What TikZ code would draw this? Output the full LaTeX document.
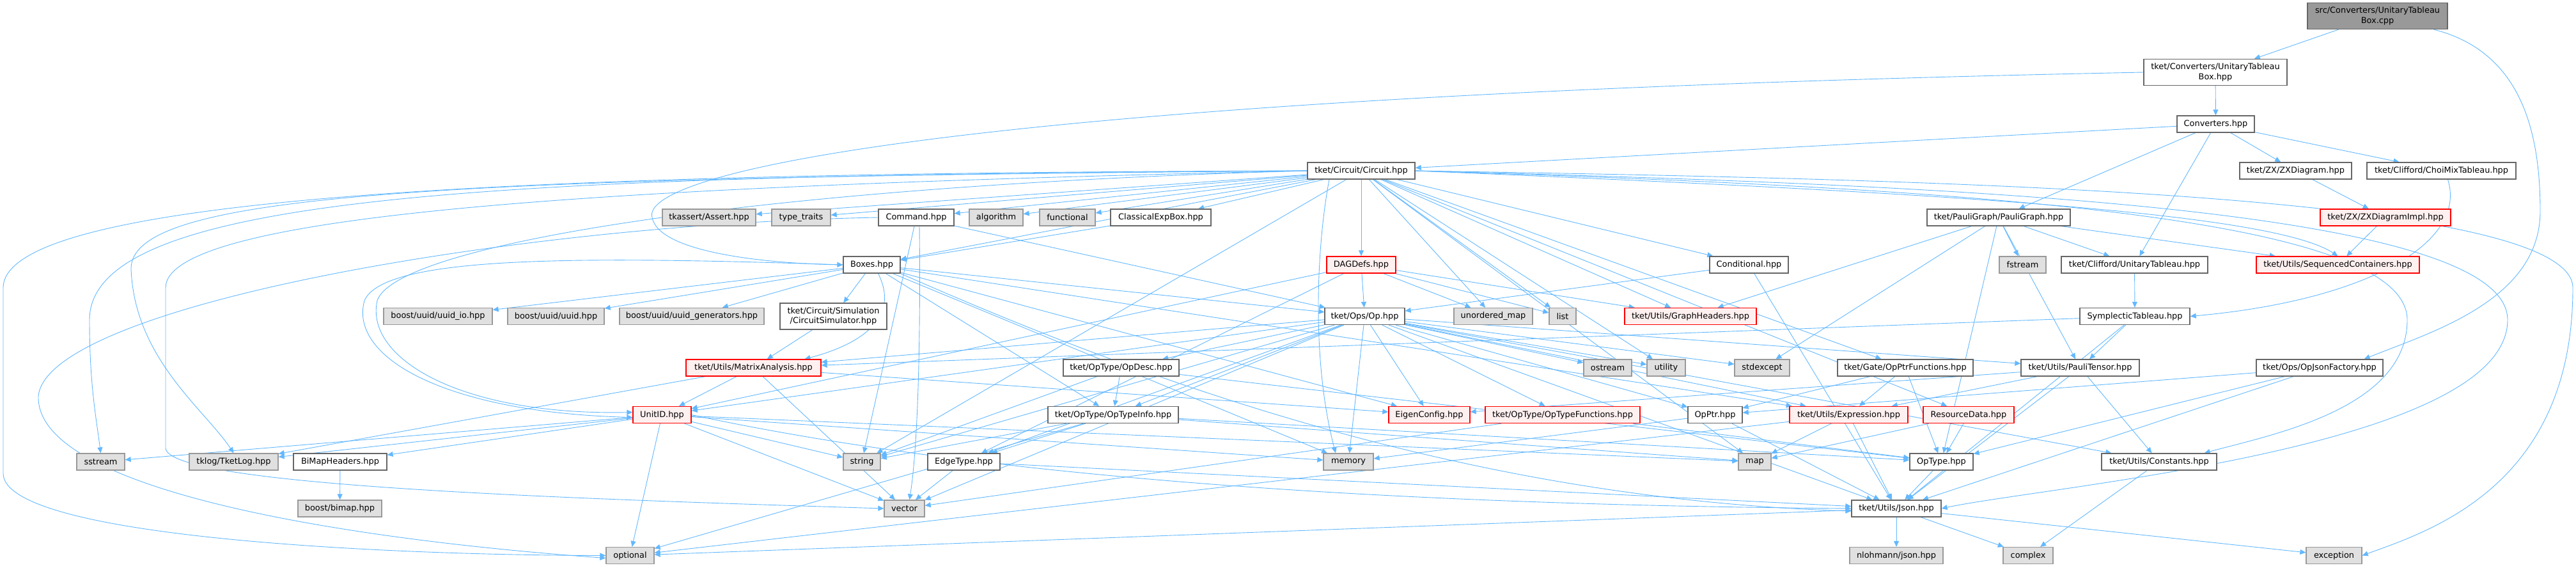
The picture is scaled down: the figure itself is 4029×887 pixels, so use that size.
\documentclass[tikz,border=0pt]{standalone}
\usepackage{fontspec}
\setmainfont{DejaVu Sans}
\usetikzlibrary{arrows.meta,backgrounds}
\definecolor{DoxLine}{HTML}{666666}
\definecolor{DoxSysLine}{HTML}{999999}
\definecolor{DoxSysFill}{HTML}{E0E0E0}
\definecolor{DoxRed}{HTML}{FF0000}
\definecolor{DoxRedFill}{HTML}{FFF0F0}
\definecolor{DoxRoot}{HTML}{999999}
\definecolor{DoxEdge}{HTML}{63B8FF}
\begin{document}
\begin{tikzpicture}[x=1pt,y=-1pt,
  hdr/.style={draw=DoxLine,fill=white,line width=1.3pt,inner sep=0pt,minimum height=26pt,font=\fontsize{12.9}{15.5}\selectfont,align=center},
  sys/.style={hdr,draw=DoxSysLine,fill=DoxSysFill},
  cut/.style={hdr,draw=DoxRed,fill=DoxRedFill},
  rootfile/.style={hdr,fill=DoxRoot,minimum height=41pt},
  dep/.style={draw=DoxEdge,line width=0.9pt,-{Triangle[length=9pt,width=8pt]}}]
\path[use as bounding box] (0,0) rectangle (4029,887);
% rank 0 .. 3
\node[rootfile,minimum width=219pt] (cpp) at (3718.5,25) {src/Converters/UnitaryTableau\\Box.cpp};
\node[hdr,minimum width=224pt,minimum height=41pt] (utbh) at (3465,113) {tket/Converters/UnitaryTableau\\Box.hpp};
\node[hdr,minimum width=121pt] (conv) at (3465.5,194) {Converters.hpp};
\node[hdr,minimum width=168pt] (circ) at (2129,267) {tket/Circuit/Circuit.hpp};
\node[hdr,minimum width=175pt] (zxd) at (3590.5,267) {tket/ZX/ZXDiagram.hpp};
\node[hdr,minimum width=233pt] (choi) at (3818.5,267) {tket/Clifford/ChoiMixTableau.hpp};
% rank 4
\node[sys,minimum width=146pt] (asrt) at (1109,340) {tkassert/Assert.hpp};
\node[sys,minimum width=92pt] (ttr) at (1253,340) {type\_traits};
\node[hdr,minimum width=118pt] (cmd) at (1433,340) {Command.hpp};
\node[sys,minimum width=84pt] (alg) at (1558,340) {algorithm};
\node[sys,minimum width=87pt] (fnc) at (1669.5,340) {functional};
\node[hdr,minimum width=157pt] (cexp) at (1815.5,340) {ClassicalExpBox.hpp};
\node[hdr,minimum width=224pt] (pg) at (3126,340) {tket/PauliGraph/PauliGraph.hpp};
\node[cut,minimum width=204pt] (zxi) at (3731,340) {tket/ZX/ZXDiagramImpl.hpp};
% rank 5
\node[hdr,minimum width=89pt] (boxes) at (1363.5,414) {Boxes.hpp};
\node[cut,minimum width=108pt] (dag) at (2129,414) {DAGDefs.hpp};
\node[hdr,minimum width=123pt] (cond) at (2735.5,414) {Conditional.hpp};
\node[sys,minimum width=73pt] (fstr) at (3163.5,414) {fstream};
\node[hdr,minimum width=229pt] (ut) at (3338.5,414) {tket/Clifford/UnitaryTableau.hpp};
\node[cut,minimum width=255pt] (seq) at (3656.5,414) {tket/Utils/SequencedContainers.hpp};
% rank 6
\node[sys,minimum width=170pt] (uio) at (685,494.5) {boost/uuid/uuid\_io.hpp};
\node[sys,minimum width=151pt] (uuid) at (869.5,494.5) {boost/uuid/uuid.hpp};
\node[sys,minimum width=226pt] (ugen) at (1082,494.5) {boost/uuid/uuid\_generators.hpp};
\node[hdr,minimum width=167pt,minimum height=41pt] (csim) at (1303.5,494.5) {tket/Circuit/Simulation\\/CircuitSimulator.hpp};
\node[hdr,minimum width=125pt] (op) at (2134.5,494.5) {tket/Ops/Op.hpp};
\node[sys,minimum width=123pt] (umap) at (2335.5,494.5) {unordered\_map};
\node[sys,minimum width=42pt] (lst) at (2444,494.5) {list};
\node[cut,minimum width=206pt] (gh) at (2644,494.5) {tket/Utils/GraphHeaders.hpp};
\node[hdr,minimum width=172pt] (symp) at (3339,494.5) {SymplecticTableau.hpp};
% rank 7
\node[cut,minimum width=211pt] (mat) at (1178.5,575) {tket/Utils/MatrixAnalysis.hpp};
\node[hdr,minimum width=181pt] (desc) at (1753.5,575) {tket/OpType/OpDesc.hpp};
\node[sys,minimum width=75pt] (ostr) at (2514.5,575) {ostream};
\node[sys,minimum width=60pt] (util) at (2606,575) {utility};
\node[sys,minimum width=86pt] (stde) at (2756,575) {stdexcept};
\node[hdr,minimum width=212pt] (opf) at (2980,575) {tket/Gate/OpPtrFunctions.hpp};
\node[hdr,minimum width=185pt] (pt) at (3253.5,575) {tket/Utils/PauliTensor.hpp};
\node[hdr,minimum width=198pt] (ojf) at (3628,575) {tket/Ops/OpJsonFactory.hpp};
% rank 8
\node[cut,minimum width=91pt] (uid) at (1035.5,648.5) {UnitID.hpp};
\node[hdr,minimum width=204pt] (oti) at (1741,648.5) {tket/OpType/OpTypeInfo.hpp};
\node[cut,minimum width=127pt] (eig) at (2235.5,648.5) {EigenConfig.hpp};
\node[cut,minimum width=242pt] (otf) at (2444,648.5) {tket/OpType/OpTypeFunctions.hpp};
\node[hdr,minimum width=85pt] (optr) at (2682.5,648.5) {OpPtr.hpp};
\node[cut,minimum width=185pt] (expr) at (2891.5,648.5) {tket/Utils/Expression.hpp};
\node[cut,minimum width=142pt] (rd) at (3079,648.5) {ResourceData.hpp};
% rank 9
\node[sys,minimum width=75pt] (sstr) at (157.5,722) {sstream};
\node[sys,minimum width=139pt] (tklog) at (365.5,722) {tklog/TketLog.hpp};
\node[hdr,minimum width=146pt] (bimap) at (532,722) {BiMapHeaders.hpp};
\node[sys,minimum width=58pt] (str) at (1348,722) {string};
\node[hdr,minimum width=113pt] (etype) at (1507.5,722) {EdgeType.hpp};
\node[sys,minimum width=78pt] (mem) at (2109,722) {memory};
\node[sys,minimum width=51pt] (map) at (2744.5,722) {map};
\node[hdr,minimum width=99pt] (opt) at (3036.5,722) {OpType.hpp};
\node[hdr,minimum width=180pt] (cst) at (3377,722) {tket/Utils/Constants.hpp};
% rank 10 .. 11
\node[sys,minimum width=131pt] (bbm) at (531.5,795) {boost/bimap.hpp};
\node[sys,minimum width=63pt] (vec) at (1414.5,795) {vector};
\node[hdr,minimum width=140pt] (json) at (2966,795) {tket/Utils/Json.hpp};
\node[sys,minimum width=75pt] (optl) at (985.5,868.5) {optional};
\node[sys,minimum width=146pt] (nlo) at (2966,868.5) {nlohmann/json.hpp};
\node[sys,minimum width=78pt] (cplx) at (3172,868.5) {complex};
\node[sys,minimum width=87pt] (exc) at (3650.5,868.5) {exception};
\begin{pgfonlayer}{background}
\foreach \a/\b in {cpp/utbh,utbh/conv,conv/circ,conv/choi,conv/ut,conv/pg,conv/zxd,zxd/zxi,zxi/seq,
  circ/asrt,circ/ttr,circ/cmd,circ/alg,circ/fnc,circ/cexp,circ/boxes,circ/dag,circ/cond,circ/umap,circ/lst,
  circ/gh,circ/opf,circ/map,circ/str,circ/util,circ/rd,
  cmd/op,cmd/str,cexp/boxes,
  boxes/uio,boxes/uuid,boxes/ugen,boxes/csim,boxes/eig,boxes/op,boxes/oti,boxes/mem,boxes/expr,
  dag/op,dag/umap,dag/lst,dag/gh,dag/uid,dag/etype,cond/op,cond/json,
  pg/fstr,pg/ut,pg/seq,pg/pt,pg/gh,pg/stde,pg/opt,
  ut/symp,symp/pt,symp/mat,symp/json,csim/mat,
  op/ostr,op/util,op/stde,op/str,op/mem,op/vec,op/etype,op/desc,op/otf,op/cst,op/eig,op/expr,op/json,op/uid,op/optr,op/pt,op/mat,op/oti,
  mat/uid,mat/eig,mat/tklog,mat/vec,desc/oti,desc/opt,desc/str,
  opf/optr,opf/opt,opf/expr,pt/expr,pt/cst,pt/json,pt/eig,ojf/optr,ojf/opt,ojf/json,
  uid/sstr,uid/tklog,uid/bimap,uid/optl,uid/str,uid/vec,uid/mem,uid/map,
  oti/str,oti/etype,oti/optl,oti/opt,oti/map,otf/opt,otf/vec,optr/json,optr/mem,
  expr/json,expr/map,expr/optl,rd/opt,rd/map,
  bimap/bbm,etype/vec,etype/json,opt/json,cst/cplx,json/nlo,json/cplx,json/exc,json/optl}
  \draw[dep] (\a) -- (\b);
% long edges routed round the sides
\draw[dep] ([xshift=-22pt]cpp.south east) .. controls (3940,80) and (3973,200) .. (3973,330) .. controls (3973,470) and (3800,520) .. ([xshift=-30pt]ojf.north east);
\draw[dep] (utbh.west) .. controls (1500,150) and (1000,270) .. (1020,340) .. controls (1030,395) and (1200,412) .. (boxes.west);
\draw[dep] ([xshift=10pt]boxes.south) .. controls (1410,500) and (1340,540) .. ([xshift=80pt]mat.north);
\draw[dep] (boxes.west) .. controls (900,400) and (600,400) .. (570,470) .. controls (545,560) and (700,645) .. ([yshift=-4pt]uid.west);
\draw[dep] (boxes.south east) .. controls (1800,600) and (2300,780) .. ([yshift=-4pt]json.west);
\draw[dep] ([xshift=5pt]cmd.south) .. controls (1440,550) and (1435,700) .. ([xshift=8pt]vec.north);
\draw[dep] (cmd.west) .. controls (800,350) and (70,480) .. (60,620) .. controls (57,760) and (500,840) .. ([yshift=-4pt]optl.west);
\draw[dep] ([xshift=10pt]choi.south) .. controls (3860,380) and (3700,470) .. (symp.east);
\draw[dep] (circ.east) .. controls (3000,280) and (4024,300) .. (4024,450) .. controls (4024,760) and (3800,830) .. (exc.east);
\draw[dep] (circ.east) .. controls (3000,288) and (3922,320) .. (3922,500) .. controls (3922,700) and (3200,760) .. (json.east);
\draw[dep] (circ.east) .. controls (3000,292) and (3765,330) .. (3765,500) .. controls (3765,640) and (3550,680) .. ([xshift=-20pt]cst.north east);
\draw[dep] (circ.east) .. controls (3000,300) and (3550,330) .. (seq.north);
\draw[dep] ([xshift=-50pt]circ.south) .. controls (2060,380) and (2050,560) .. ([xshift=-20pt]mem.north);
\draw[dep] (circ.west) .. controls (1200,290) and (620,380) .. (590,470) .. controls (570,560) and (720,650) .. ([yshift=4pt]uid.west);
\draw[dep] (circ.west) .. controls (900,270) and (5,300) .. (5,450) -- (5,740) .. controls (5,840) and (600,868) .. (optl.west);
\draw[dep] (circ.west) .. controls (800,274) and (140,300) .. (140,500) .. controls (140,600) and (150,650) .. (sstr.north);
\draw[dep] (circ.west) .. controls (700,278) and (205,300) .. (205,420) .. controls (210,560) and (320,640) .. (tklog.north);
\draw[dep] (circ.west) .. controls (1000,290) and (259,330) .. (259,450) -- (259,700) .. controls (259,760) and (900,780) .. (vec.west);
\draw[dep] (uid.east) .. controls (1600,760) and (2300,790) .. (json.west);
\end{pgfonlayer}
\end{tikzpicture}
\end{document}
